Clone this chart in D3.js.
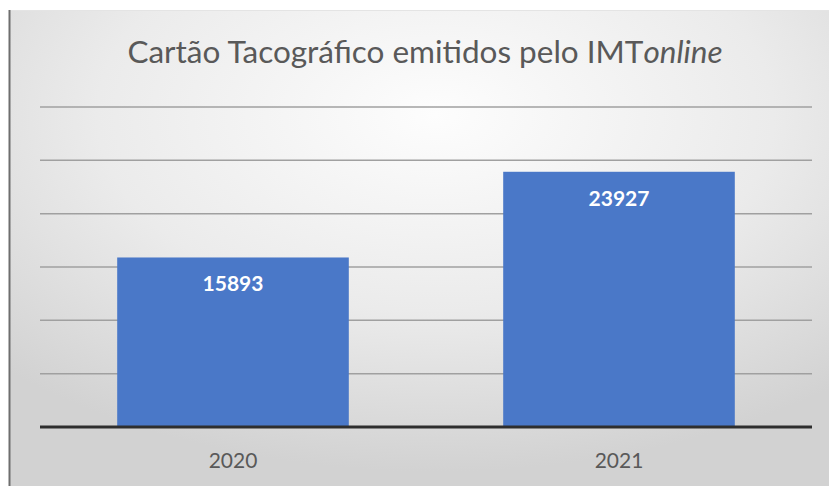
<!DOCTYPE html>
<html>
<head>
<meta charset="utf-8">
<script src="https://cdn.jsdelivr.net/npm/d3@7"></script>
<style>
  html, body { margin: 0; padding: 0; background: #fff; }
  svg { display: block; }
</style>
</head>
<body>
<div id="chart"></div>
<script>
// ── Datos ──────────────────────────────────────────────
const anos = ["2020", "2021"];
const cartoes = [15893, 23927];
const ticks = [0, 5000, 10000, 15000, 20000, 25000, 30000];

const width = 829, height = 486;
const margin = { top: 107, right: 17, bottom: 59, left: 40 };

const svg = d3.select("#chart").append("svg")
  .attr("width", width)
  .attr("height", height)
  .style("font-family", "Lato, 'Open Sans', sans-serif");

// ── Fondo con degradado ────────────────────────────────
const defs = svg.append("defs");
const grad = defs.append("radialGradient")
  .attr("id", "bg")
  .attr("cx", "52%").attr("cy", "22%").attr("r", "75%");
grad.append("stop").attr("offset", "0%").attr("stop-color", "#fdfdfd");
grad.append("stop").attr("offset", "55%").attr("stop-color", "#ebebeb");
grad.append("stop").attr("offset", "100%").attr("stop-color", "#d2d2d2");

svg.append("rect")
  .attr("x", 9).attr("y", 10)
  .attr("width", width - 9).attr("height", height - 10)
  .attr("fill", "url(#bg)");
// borde superior e izquierdo
svg.append("line").attr("x1", 9).attr("x2", width).attr("y1", 10.5).attr("y2", 10.5)
  .attr("stroke", "#e4e4e4").attr("stroke-width", 1);
svg.append("line").attr("x1", 9.5).attr("x2", 9.5).attr("y1", 10).attr("y2", height)
  .attr("stroke", "#6e6e6e").attr("stroke-width", 2);

// ── Escalas ────────────────────────────────────────────
const x = d3.scaleBand()
  .domain(anos)
  .range([margin.left, width - margin.right])
  .paddingInner(0.4)
  .paddingOuter(0.2);

const y = d3.scaleLinear()
  .domain([0, 30000])
  .range([height - margin.bottom, margin.top]);

// ── Rejilla ────────────────────────────────────────────
svg.append("g")
  .selectAll("line")
  .data(ticks.slice(1))
  .join("line")
  .attr("x1", margin.left)
  .attr("x2", width - margin.right)
  .attr("y1", d => y(d))
  .attr("y2", d => y(d))
  .attr("stroke", "#a0a0a0")
  .attr("stroke-width", 1.5);

// ── Barras ─────────────────────────────────────────────
const datos = anos.map((a, i) => ({ ano: a, valor: cartoes[i] }));

svg.append("g")
  .selectAll("rect")
  .data(datos)
  .join("rect")
  .attr("x", d => x(d.ano))
  .attr("y", d => y(d.valor))
  .attr("width", x.bandwidth())
  .attr("height", d => y(0) - y(d.valor))
  .attr("fill", "#4a78c8");

// etiquetas de valor
svg.append("g")
  .selectAll("text")
  .data(datos)
  .join("text")
  .attr("x", d => x(d.ano) + x.bandwidth() / 2)
  .attr("y", d => y(d.valor) + 34)
  .attr("text-anchor", "middle")
  .style("font-size", "21px")
  .style("font-weight", "bold")
  .style("fill", "#ffffff")
  .text(d => d.valor);

// ── Eje X ──────────────────────────────────────────────
svg.append("line")
  .attr("x1", margin.left).attr("x2", width - margin.right)
  .attr("y1", y(0)).attr("y2", y(0))
  .attr("stroke", "#2e2e2e")
  .attr("stroke-width", 3);

svg.append("g")
  .selectAll("text")
  .data(anos)
  .join("text")
  .attr("x", d => x(d) + x.bandwidth() / 2)
  .attr("y", y(0) + 41)
  .attr("text-anchor", "middle")
  .style("font-size", "21px")
  .style("fill", "#595959")
  .text(d => d);

// ── Título ─────────────────────────────────────────────
const title = svg.append("text")
  .attr("x", 425)
  .attr("y", 63)
  .attr("text-anchor", "middle")
  .style("font-size", "28px")
  .style("fill", "#595959");
title.append("tspan").text("Cartão Tacográfico emitidos pelo IMT");
title.append("tspan").style("font-style", "italic").text("online");

// ajustar al ancho del original (~595px)
const w = title.node().getComputedTextLength();
title.style("font-size", (28 * 595 / w).toFixed(1) + "px");
</script>
</body>
</html>
